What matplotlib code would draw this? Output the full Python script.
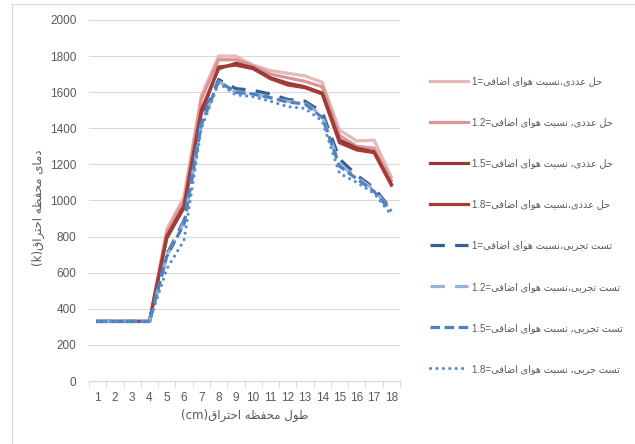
import matplotlib
matplotlib.use("Agg")
import matplotlib.pyplot as plt
from matplotlib.patches import Rectangle
from matplotlib.ticker import MultipleLocator

# combustion chamber length (cm)
positions = list(range(1, 19))

# numerical solution, excess air ratio 1 / 1.2 / 1.5 / 1.8
num_1 = [330, 330, 330, 330, 840, 1020, 1580, 1800, 1800, 1750, 1720, 1705, 1690, 1655, 1390, 1330, 1335, 1130]
num_12 = [330, 330, 330, 330, 820, 1000, 1560, 1780, 1780, 1745, 1700, 1680, 1660, 1630, 1360, 1300, 1290, 1110]
num_15 = [330, 330, 330, 330, 800, 970, 1500, 1730, 1760, 1735, 1680, 1650, 1630, 1595, 1335, 1290, 1270, 1090]
num_18 = [330, 330, 330, 330, 790, 960, 1480, 1740, 1750, 1730, 1675, 1640, 1625, 1590, 1320, 1280, 1265, 1085]

# experimental test, same ratios
exp_1 = [330, 330, 330, 330, 700, 890, 1440, 1670, 1620, 1610, 1590, 1560, 1550, 1490, 1230, 1140, 1070, 950]
exp_12 = [330, 330, 330, 330, 690, 880, 1420, 1660, 1600, 1590, 1570, 1550, 1540, 1470, 1200, 1130, 1060, 940]
exp_15 = [330, 330, 330, 330, 690, 870, 1420, 1660, 1600, 1590, 1570, 1545, 1535, 1460, 1190, 1120, 1050, 940]
exp_18 = [330, 330, 330, 330, 620, 780, 1400, 1650, 1585, 1575, 1550, 1520, 1510, 1440, 1150, 1100, 1040, 920]

labels = [
    "حل عددی،نسبت هوای اضافی=1",
    "حل عددی، نسبت هوای اضافی=1.2",
    "حل عددی، نسبت هوای اضافی=1.5",
    "حل عددی،نسبت هوای اضافی=1.8",
    "تست تجربی،نسبت هوای اضافی=1",
    "تست تجربی،نسبت هوای اضافی=1.2",
    "تست تجربی، نسبت هوای اضافی=1.5",
    "تست جربی، نسبت هوای اضافی=1.8",
]
xlabel = "طول محفظه احتراق(cm)"
ylabel = "دمای محفظه احتراق(k)"

# matplotlib has no arabic shaping, so pick presentation forms by hand
# (isolated, final, initial, medial); two-form letters only join to the right
FORMS = {
    "ا": ("\uFE8D", "\uFE8E"),
    "ب": ("\uFE8F", "\uFE90", "\uFE91", "\uFE92"),
    "ت": ("\uFE95", "\uFE96", "\uFE97", "\uFE98"),
    "ج": ("\uFE9D", "\uFE9E", "\uFE9F", "\uFEA0"),
    "ح": ("\uFEA1", "\uFEA2", "\uFEA3", "\uFEA4"),
    "د": ("\uFEA9", "\uFEAA"),
    "ر": ("\uFEAD", "\uFEAE"),
    "س": ("\uFEB1", "\uFEB2", "\uFEB3", "\uFEB4"),
    "ض": ("\uFEBD", "\uFEBE", "\uFEBF", "\uFEC0"),
    "ط": ("\uFEC1", "\uFEC2", "\uFEC3", "\uFEC4"),
    "ظ": ("\uFEC5", "\uFEC6", "\uFEC7", "\uFEC8"),
    "ع": ("\uFEC9", "\uFECA", "\uFECB", "\uFECC"),
    "ف": ("\uFED1", "\uFED2", "\uFED3", "\uFED4"),
    "ق": ("\uFED5", "\uFED6", "\uFED7", "\uFED8"),
    "ل": ("\uFEDD", "\uFEDE", "\uFEDF", "\uFEE0"),
    "م": ("\uFEE1", "\uFEE2", "\uFEE3", "\uFEE4"),
    "ن": ("\uFEE5", "\uFEE6", "\uFEE7", "\uFEE8"),
    "ه": ("\uFEE9", "\uFEEA", "\uFEEB", "\uFEEC"),
    "و": ("\uFEED", "\uFEEE"),
    "ی": ("\uFBFC", "\uFBFD", "\uFBFE", "\uFBFF"),
}
MIRROR = {"(": ")", ")": "("}


def rtl(text):
    shaped = []
    for i, c in enumerate(text):
        if c not in FORMS:
            shaped.append(c)
            continue
        prev = text[i - 1] if i > 0 else ""
        nxt = text[i + 1] if i + 1 < len(text) else ""
        joins_prev = prev in FORMS and len(FORMS[prev]) == 4
        joins_next = len(FORMS[c]) == 4 and nxt in FORMS
        if joins_prev and joins_next:
            shaped.append(FORMS[c][3])
        elif joins_prev:
            shaped.append(FORMS[c][1])
        elif joins_next:
            shaped.append(FORMS[c][2])
        else:
            shaped.append(FORMS[c][0])

    # group left-to-right runs (numbers, latin) and reverse everything else
    runs = []
    for c in shaped:
        ltr = c.isascii() and (c.isalnum() or c == ".")
        if ltr and runs and runs[-1][0]:
            runs[-1][1] += c
        else:
            runs.append([ltr, c])
    out = []
    for ltr, s in reversed(runs):
        out.append(s if ltr else MIRROR.get(s, s))
    return "".join(out)


plt.rcParams["font.family"] = ["Liberation Sans", "DejaVu Sans"]

fig = plt.figure(figsize=(6.35, 4.44), dpi=100)
fig.patches.append(Rectangle((12 / 635, -0.5), 2, 1.5 - 4 / 444, transform=fig.transFigure,
                             fill=False, edgecolor="#D9D9D9", linewidth=0.75))
ax = fig.add_axes([89 / 635, 63 / 444, 311 / 635, 361 / 444])

series = [
    (num_1, dict(color="#E6B9B8", linestyle="-")),
    (num_12, dict(color="#D99694", linestyle="-")),
    (num_15, dict(color="#953735", linestyle="-")),
    (num_18, dict(color="#A33C38", linestyle="-")),
    (exp_1, dict(color="#376092", linestyle=(0, (4.5, 3.2)))),
    (exp_12, dict(color="#95B3D7", linestyle=(0, (4.5, 3.2)))),
    (exp_15, dict(color="#4F81BD", linestyle=(0, (3, 1.4)))),
    (exp_18, dict(color="#558ED5", linestyle=(0, (0.01, 2)), dash_capstyle="round")),
]
handles = []
for (vals, style), lab in zip(series, labels):
    h, = ax.plot(positions, vals, linewidth=2.3, label=rtl(lab), **style)
    handles.append(h)

ax.set_xlim(0.5, 18.5)
ax.set_ylim(0, 2000)
ax.yaxis.set_major_locator(MultipleLocator(200))
ax.set_xticks(positions)
ax.set_xticks([p - 0.5 for p in positions] + [18.5], minor=True)
ax.grid(axis="y", color="#D9D9D9", linewidth=0.75)
ax.set_axisbelow(True)
for side in ["left", "right", "top"]:
    ax.spines[side].set_visible(False)
ax.spines["bottom"].set_color("#D9D9D9")
ax.tick_params(axis="both", which="major", length=0, labelsize=8.5, labelcolor="#595959")
ax.tick_params(axis="y", pad=9)
ax.tick_params(axis="x", pad=8)
ax.tick_params(axis="x", which="minor", length=4, color="#D9D9D9", width=0.75)

ax.set_xlabel(rtl(xlabel), fontsize=8.5, color="#595959", family="DejaVu Sans")
ax.set_ylabel(rtl(ylabel), fontsize=8.5, color="#595959", family="DejaVu Sans")
ax.xaxis.set_label_coords(0.5, -0.076)
ax.yaxis.set_label_coords(-0.142, 0.48)

fig.legend(handles=handles, loc="center left", bbox_to_anchor=(430 / 635, 1 - 225 / 444),
           frameon=False, fontsize=7, handlelength=3.9, handletextpad=0.4,
           labelspacing=3.2, borderpad=0, borderaxespad=0, labelcolor="#595959")

fig.savefig("out.png", dpi=100)
